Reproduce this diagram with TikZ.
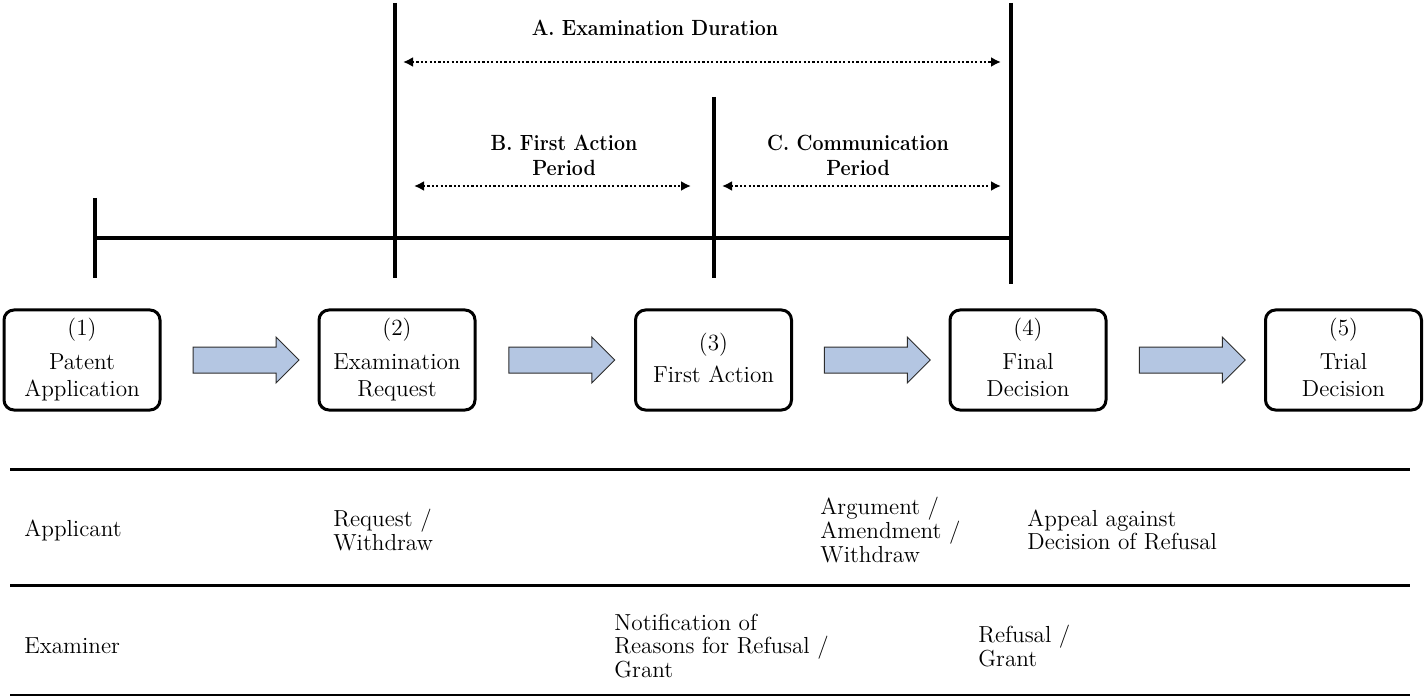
\documentclass[tikz,border=0pt]{standalone}
\usetikzlibrary{arrows.meta,shapes.arrows,calc}
\definecolor{arrowfill}{RGB}{180,198,226}
\definecolor{arrowline}{RGB}{45,45,45}
\newcommand{\boxfont}{\fontsize{11.6}{13.5}\selectfont}
\newcommand{\rowfont}{\fontsize{11.6}{11.8}\selectfont}
\newcommand{\headfont}{\fontsize{11}{12.5}\selectfont\bfseries}
\newcommand{\hd}[1]{\scalebox{0.89}[1]{#1}}
\newcommand{\descph}{\vphantom{p}}
\begin{document}
\begin{tikzpicture}[x=0.5pt,y=-0.5pt,
  bar/.style={line width=2.25pt},
  stepbox/.style={draw, line width=1.5pt, rounded corners=5pt, minimum width=78pt, minimum height=50pt, align=center, font=\boxfont, inner sep=0pt},
  blockarrow/.style={single arrow, draw=arrowline, fill=arrowfill, line width=0.5pt, minimum height=53pt, inner xsep=0pt, inner ysep=6.25pt, single arrow head extend=5pt, single arrow tip angle=90, outer sep=0pt},
  dotarrow/.style={line width=1.1pt, dash pattern=on 1.1pt off 1.1pt, {Latex[length=5pt,width=5pt]}-{Latex[length=5pt,width=5pt]}},
  head/.style={font=\headfont, align=center, inner sep=0pt},
  rowtext/.style={font=\rowfont, align=left, anchor=west, inner sep=0pt},
  rule/.style={line width=1.5pt}
]
\useasboundingbox (0,0) rectangle (1424,700);

% timeline coordinates
\coordinate (t1top) at (95,198);   \coordinate (t1bot) at (95,278);
\coordinate (t2top) at (395,3);    \coordinate (t2bot) at (395,278);
\coordinate (t3top) at (714,97);   \coordinate (t3bot) at (714,278);
\coordinate (t4top) at (1011,3);   \coordinate (t4bot) at (1011,284);
\coordinate (hL) at (95,238);      \coordinate (hR) at (1011,238);

\draw[bar] (t1top) -- (t1bot);
\draw[bar] (t2top) -- (t2bot);
\draw[bar] (t3top) -- (t3bot);
\draw[bar] (t4top) -- (t4bot);
\draw[bar] (hL) -- (hR);

% headings
\node[head] (hA) at (655,28) {\hd{A. Examination Duration}};
\node[head] (hB) at (564,155) {\hd{B. First Action}\\\hd{Period}};
\node[head] (hC) at (858,155) {\hd{C. Communication}\\\hd{Period}};

\coordinate (aL) at (403,62);  \coordinate (aR) at (1001,62);
\coordinate (bL) at (414,186); \coordinate (bR) at (691,186);
\coordinate (cL) at (722,186); \coordinate (cR) at (1001,186);
\draw[dotarrow] (aL) -- (aR);
\draw[dotarrow] (bL) -- (bR);
\draw[dotarrow] (cL) -- (cR);

% step boxes
\node[stepbox] (b1) at (82,360) {(1)\\[3.5pt]Patent\\Application};
\node[stepbox] (b2) at (397,360) {(2)\\[3.5pt]Examination\\Request\descph};
\node[stepbox] (b3) at (713.5,360) {(3)\\[2.5pt]First Action\descph};
\node[stepbox] (b4) at (1028,360) {(4)\\[3.5pt]Final\\Decision\descph};
\node[stepbox] (b5) at (1343.5,360) {(5)\\[3.5pt]Trial\\Decision\descph};

\node[blockarrow] (a12) at ($(b1.east)!0.5!(b2.west)$) {};
\node[blockarrow] (a23) at ($(b2.east)!0.5!(b3.west)$) {};
\node[blockarrow] (a34) at ($(b3.east)!0.5!(b4.west)$) {};
\node[blockarrow] (a45) at ($(b4.east)!0.5!(b5.west)$) {};

% table
\coordinate (r1L) at (10,469); \coordinate (r1R) at (1410,469);
\coordinate (r2L) at (10,585); \coordinate (r2R) at (1410,585);
\coordinate (r3L) at (10,695); \coordinate (r3R) at (1410,695);
\draw[rule] (r1L) -- (r1R);
\draw[rule] (r2L) -- (r2R);
\draw[line width=1pt] (r3L) -- (r3R);

\node[rowtext] (applicant) at (24,530) {Applicant};
\node[rowtext] (req) at (333,530) {Request /\\Withdraw};
\node[rowtext] (arg) at (820,530) {Argument /\\Amendment /\\Withdraw};
\node[rowtext] (appeal) at (1027,530) {Appeal against\\Decision of Refusal};

\node[rowtext] (examiner) at (24,646) {Examiner};
\node[rowtext] (notif) at (614,646) {Notification of\\Reasons for Refusal /\\Grant};
\node[rowtext] (refusal) at (978,646) {Refusal /\\Grant};
\end{tikzpicture}
\end{document}
